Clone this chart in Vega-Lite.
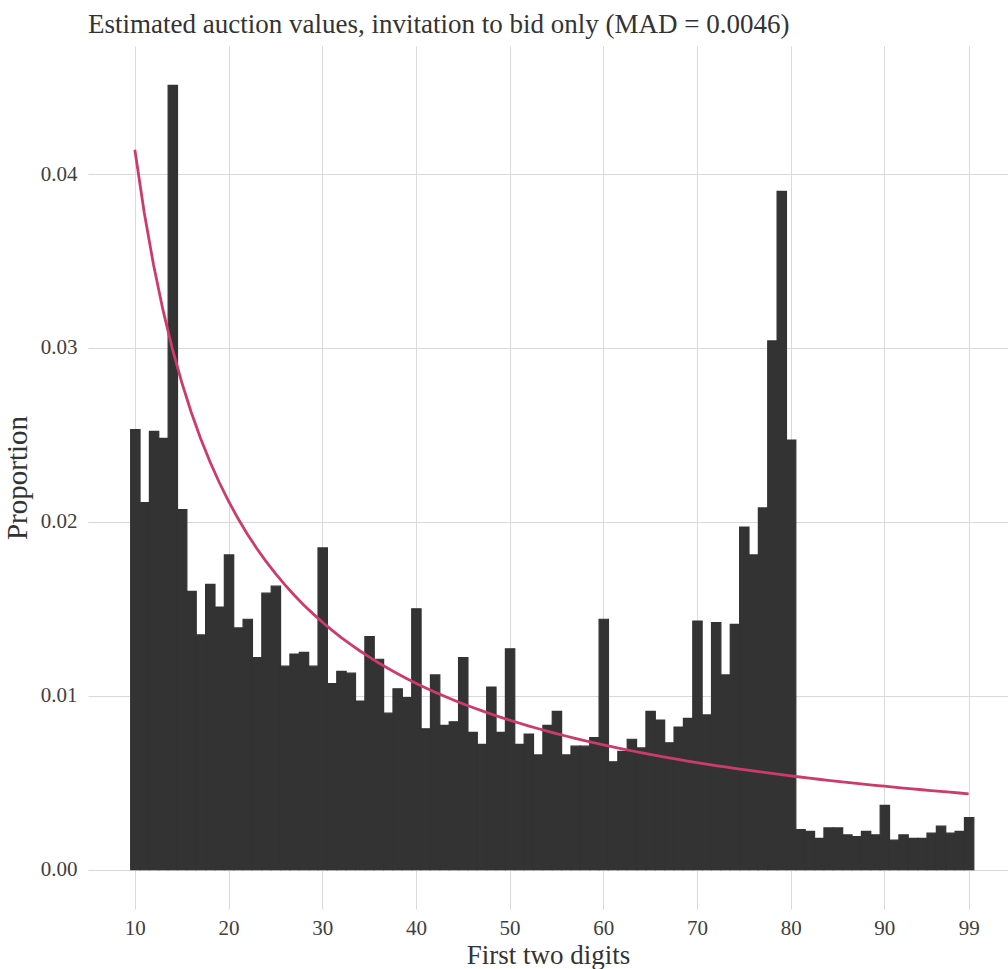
{
  "$schema": "https://vega.github.io/schema/vega-lite/v6.json",
  "width": 920,
  "height": 863,
  "autosize": "none",
  "padding": {"left": 88, "top": 46, "right": 0, "bottom": 60},
  "background": "white",
  "config": {
    "font": "Liberation Serif",
    "view": {"stroke": null},
    "axis": {"labelFont": "Liberation Serif", "titleFont": "Liberation Serif"}
  },
  "title": {
    "text": "Estimated auction values, invitation to bid only (MAD = 0.0046)",
    "anchor": "start",
    "frame": "group",
    "font": "Liberation Serif",
    "fontSize": 27,
    "fontWeight": "normal",
    "color": "#333333",
    "baseline": "alphabetic",
    "offset": 14,
    "dy": 28
  },
  "data": {
    "values": [
      {"d": 10, "prop": 0.0253, "benford": 0.041393},
      {"d": 11, "prop": 0.0211, "benford": 0.037789},
      {"d": 12, "prop": 0.0252, "benford": 0.034762},
      {"d": 13, "prop": 0.0248, "benford": 0.032185},
      {"d": 14, "prop": 0.0451, "benford": 0.029963},
      {"d": 15, "prop": 0.0207, "benford": 0.028029},
      {"d": 16, "prop": 0.0160, "benford": 0.026329},
      {"d": 17, "prop": 0.0135, "benford": 0.024824},
      {"d": 18, "prop": 0.0164, "benford": 0.023481},
      {"d": 19, "prop": 0.0151, "benford": 0.022276},
      {"d": 20, "prop": 0.0181, "benford": 0.021189},
      {"d": 21, "prop": 0.0139, "benford": 0.020203},
      {"d": 22, "prop": 0.0144, "benford": 0.019305},
      {"d": 23, "prop": 0.0122, "benford": 0.018483},
      {"d": 24, "prop": 0.0159, "benford": 0.017729},
      {"d": 25, "prop": 0.0163, "benford": 0.017033},
      {"d": 26, "prop": 0.0117, "benford": 0.016390},
      {"d": 27, "prop": 0.0124, "benford": 0.015794},
      {"d": 28, "prop": 0.0125, "benford": 0.015240},
      {"d": 29, "prop": 0.0117, "benford": 0.014723},
      {"d": 30, "prop": 0.0185, "benford": 0.014240},
      {"d": 31, "prop": 0.0107, "benford": 0.013788},
      {"d": 32, "prop": 0.0114, "benford": 0.013364},
      {"d": 33, "prop": 0.0113, "benford": 0.012965},
      {"d": 34, "prop": 0.0097, "benford": 0.012589},
      {"d": 35, "prop": 0.0134, "benford": 0.012234},
      {"d": 36, "prop": 0.0121, "benford": 0.011899},
      {"d": 37, "prop": 0.0090, "benford": 0.011582},
      {"d": 38, "prop": 0.0104, "benford": 0.011281},
      {"d": 39, "prop": 0.0099, "benford": 0.010995},
      {"d": 40, "prop": 0.0150, "benford": 0.010724},
      {"d": 41, "prop": 0.0081, "benford": 0.010465},
      {"d": 42, "prop": 0.0112, "benford": 0.010219},
      {"d": 43, "prop": 0.0083, "benford": 0.009984},
      {"d": 44, "prop": 0.0085, "benford": 0.009760},
      {"d": 45, "prop": 0.0122, "benford": 0.009545},
      {"d": 46, "prop": 0.0079, "benford": 0.009340},
      {"d": 47, "prop": 0.0072, "benford": 0.009143},
      {"d": 48, "prop": 0.0105, "benford": 0.008955},
      {"d": 49, "prop": 0.0079, "benford": 0.008774},
      {"d": 50, "prop": 0.0127, "benford": 0.008600},
      {"d": 51, "prop": 0.0072, "benford": 0.008433},
      {"d": 52, "prop": 0.0078, "benford": 0.008273},
      {"d": 53, "prop": 0.0066, "benford": 0.008118},
      {"d": 54, "prop": 0.0083, "benford": 0.007969},
      {"d": 55, "prop": 0.0091, "benford": 0.007825},
      {"d": 56, "prop": 0.0066, "benford": 0.007687},
      {"d": 57, "prop": 0.0071, "benford": 0.007553},
      {"d": 58, "prop": 0.0071, "benford": 0.007424},
      {"d": 59, "prop": 0.0076, "benford": 0.007299},
      {"d": 60, "prop": 0.0144, "benford": 0.007179},
      {"d": 61, "prop": 0.0062, "benford": 0.007062},
      {"d": 62, "prop": 0.0068, "benford": 0.006949},
      {"d": 63, "prop": 0.0075, "benford": 0.006839},
      {"d": 64, "prop": 0.0070, "benford": 0.006733},
      {"d": 65, "prop": 0.0091, "benford": 0.006631},
      {"d": 66, "prop": 0.0086, "benford": 0.006531},
      {"d": 67, "prop": 0.0073, "benford": 0.006434},
      {"d": 68, "prop": 0.0082, "benford": 0.006340},
      {"d": 69, "prop": 0.0087, "benford": 0.006249},
      {"d": 70, "prop": 0.0143, "benford": 0.006160},
      {"d": 71, "prop": 0.0089, "benford": 0.006074},
      {"d": 72, "prop": 0.0142, "benford": 0.005990},
      {"d": 73, "prop": 0.0112, "benford": 0.005909},
      {"d": 74, "prop": 0.0141, "benford": 0.005830},
      {"d": 75, "prop": 0.0197, "benford": 0.005752},
      {"d": 76, "prop": 0.0181, "benford": 0.005677},
      {"d": 77, "prop": 0.0208, "benford": 0.005604},
      {"d": 78, "prop": 0.0304, "benford": 0.005532},
      {"d": 79, "prop": 0.0390, "benford": 0.005463},
      {"d": 80, "prop": 0.0247, "benford": 0.005395},
      {"d": 81, "prop": 0.0023, "benford": 0.005329},
      {"d": 82, "prop": 0.0022, "benford": 0.005264},
      {"d": 83, "prop": 0.0018, "benford": 0.005201},
      {"d": 84, "prop": 0.0024, "benford": 0.005140},
      {"d": 85, "prop": 0.0024, "benford": 0.005080},
      {"d": 86, "prop": 0.0020, "benford": 0.005021},
      {"d": 87, "prop": 0.0019, "benford": 0.004963},
      {"d": 88, "prop": 0.0022, "benford": 0.004907},
      {"d": 89, "prop": 0.0020, "benford": 0.004853},
      {"d": 90, "prop": 0.0037, "benford": 0.004799},
      {"d": 91, "prop": 0.0017, "benford": 0.004746},
      {"d": 92, "prop": 0.0020, "benford": 0.004695},
      {"d": 93, "prop": 0.0018, "benford": 0.004645},
      {"d": 94, "prop": 0.0018, "benford": 0.004596},
      {"d": 95, "prop": 0.0021, "benford": 0.004548},
      {"d": 96, "prop": 0.0025, "benford": 0.004501},
      {"d": 97, "prop": 0.0021, "benford": 0.004454},
      {"d": 98, "prop": 0.0022, "benford": 0.004409},
      {"d": 99, "prop": 0.0030, "benford": 0.004365}
    ]
  },
  "layer": [
    {
      "mark": {"type": "bar", "color": "#333333", "binSpacing": 0, "stroke": "#333333", "strokeWidth": 1.2, "strokeOpacity": 1},
      "encoding": {
        "x": {
          "field": "d",
          "type": "quantitative",
          "bin": {"step": 1, "anchor": 9.5, "nice": false, "extent": [9.5, 99.5]},
          "scale": {"domain": [5, 103.2], "nice": false, "zero": false},
          "axis": {
            "values": [10, 20, 30, 40, 50, 60, 70, 80, 90, 99],
            "title": "First two digits",
            "domain": false,
            "ticks": false,
            "grid": true,
            "gridColor": "#D9D9D9",
            "gridWidth": 1,
            "labelFontSize": 21,
            "labelColor": "#404040",
            "labelPadding": 8,
            "labelFlush": false,
            "labelOverlap": false,
            "titleFontSize": 27,
            "titleFontWeight": "normal",
            "titleColor": "#333333",
            "titlePadding": 4
          }
        },
        "y": {
          "field": "prop",
          "type": "quantitative",
          "scale": {"domain": [-0.00226, 0.04736], "nice": false, "zero": false},
          "axis": {
            "values": [0, 0.01, 0.02, 0.03, 0.04],
            "format": ".2f",
            "title": "Proportion",
            "domain": false,
            "ticks": false,
            "grid": true,
            "gridColor": "#D9D9D9",
            "gridWidth": 1,
            "labelFontSize": 21,
            "labelColor": "#404040",
            "labelPadding": 11,
            "labelFlush": false,
            "titleFontSize": 29,
            "titleFontWeight": "normal",
            "titleColor": "#333333",
            "titlePadding": 8
          }
        }
      }
    },
    {
      "mark": {"type": "line", "color": "#CC3B6C", "strokeWidth": 2.8},
      "encoding": {
        "x": {"field": "d", "type": "quantitative"},
        "y": {"field": "benford", "type": "quantitative"}
      }
    }
  ]
}
